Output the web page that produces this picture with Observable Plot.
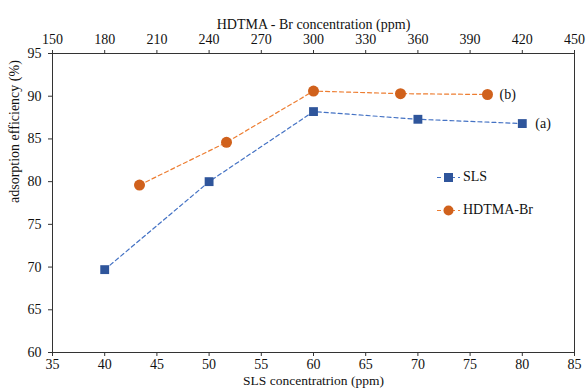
<!DOCTYPE html>
<html><head><meta charset="utf-8">
<script src="https://cdn.jsdelivr.net/npm/d3@7"></script>
<script src="https://cdn.jsdelivr.net/npm/@observablehq/plot@0.6"></script>
<style>
body{margin:0;background:#fff;font-family:'Liberation Serif'}
#chart{position:relative;width:587px;height:390px;font-family:'Liberation Serif'}
#chart svg, #chart svg text{font-family:'Liberation Serif' !important}
.leg{position:absolute;display:flex;align-items:center;font-size:14px;color:#111;font-family:'Liberation Serif'}
.leg svg{margin-right:3px}
</style>
</head><body><div id="chart"></div>
<script>
const slsConc = [40, 50, 60, 70, 80];
const slsEff = [69.7, 80.0, 88.2, 87.3, 86.8];
const hdtmaConc = [200, 250, 300, 350, 400];
const hdtmaEff = [79.6, 84.6, 90.6, 90.3, 90.2];
const xTicks = [35, 40, 45, 50, 55, 60, 65, 70, 75, 80, 85];
const topTicks = [150, 180, 210, 240, 270, 300, 330, 360, 390, 420, 450];
const yTicks = [60, 65, 70, 75, 80, 85, 90, 95];
const seriesNames = ["SLS", "HDTMA-Br"];
const endLabels = ["(a)", "(b)"];

const blueLine = "#4472C4", blueMark = "#2F559B";
const orangeLine = "#ED7D31", orangeMark = "#D0611C";
const FONT = "Liberation Serif";

// top axis (150..450) aligned with bottom axis (35..85)
const topToX = v => 35 + (v - 150) * (50 / 300);
const xToTop = x => Math.round(150 + (x - 35) * 6);

const sls = slsConc.map((c, i) => ({x: c, y: slsEff[i]}));
const hd = hdtmaConc.map((c, i) => ({x: topToX(c), y: hdtmaEff[i]}));

const plot = Plot.plot({
  width: 587, height: 390,
  marginTop: 53, marginBottom: 38, marginLeft: 52, marginRight: 13,
  style: {fontFamily: FONT, fontSize: "14px", color: "#111", background: "#fff"},
  x: {domain: [35, 85]},
  y: {domain: [60, 95]},
  marks: [
    Plot.frame({stroke: "#333", strokeWidth: 1}),
    Plot.axisY(yTicks, {anchor: "left", tickSize: 4, tickPadding: 7, stroke: "#333", label: null, fontFamily: FONT}),
    Plot.axisX(xTicks, {anchor: "bottom", tickSize: 4, tickPadding: 3, stroke: "#333", label: null, fontFamily: FONT}),
    Plot.axisX(topTicks.map(topToX), {anchor: "top", tickSize: 4, tickPadding: 6, stroke: "#333", tickFormat: xToTop, label: null, fontFamily: FONT}),
    Plot.text(["SLS concentratrion (ppm)"], {frameAnchor: "bottom", dy: 32, fontSize: 13.5, fill: "#111", fontFamily: FONT}),
    Plot.text(["HDTMA - Br concentration (ppm)"], {frameAnchor: "top", dy: -34, fill: "#111", fontFamily: FONT}),
    Plot.text(["adsorption efficiency (%)"], {frameAnchor: "left", dx: -38, rotate: -90, fill: "#111", fontFamily: FONT}),
    Plot.line(sls, {x: "x", y: "y", stroke: blueLine, strokeWidth: 1.2, strokeDasharray: "4,3"}),
    Plot.line(hd, {x: "x", y: "y", stroke: orangeLine, strokeWidth: 1.2, strokeDasharray: "4,3"}),
    Plot.dot(sls, {x: "x", y: "y", symbol: "square", r: 5, fill: blueMark, stroke: "none"}),
    Plot.dot(hd, {x: "x", y: "y", symbol: "circle", r: 5.5, fill: orangeMark, stroke: "none"}),
    Plot.text([sls[sls.length - 1]], {x: "x", y: "y", text: () => endLabels[0], dx: 13, textAnchor: "start", fill: "#111", fontFamily: FONT}),
    Plot.text([hd[hd.length - 1]], {x: "x", y: "y", text: () => endLabels[1], dx: 12, textAnchor: "start", fill: "#111", fontFamily: FONT})
  ]
});
const chart = document.getElementById("chart");
chart.appendChild(plot);

function legendItem(name, color, markColor, symbol, left, top) {
  const d = document.createElement("div");
  d.className = "leg";
  d.style.left = left + "px";
  d.style.top = top + "px";
  const mk = symbol === "square"
    ? `<rect x="7" y="3" width="9" height="9" fill="${markColor}"/>`
    : `<circle cx="11.5" cy="7.5" r="5" fill="${markColor}"/>`;
  d.innerHTML = `<svg width="23" height="15"><line x1="0" x2="23" y1="7.5" y2="7.5" stroke="${color}" stroke-width="1.2" stroke-dasharray="4,3"/>${mk}</svg><span>${name}</span>`;
  chart.appendChild(d);
}
legendItem(seriesNames[0], blueLine, blueMark, "square", 437, 169);
legendItem(seriesNames[1], orangeLine, orangeMark, "circle", 437, 202);
</script>
</body></html>
